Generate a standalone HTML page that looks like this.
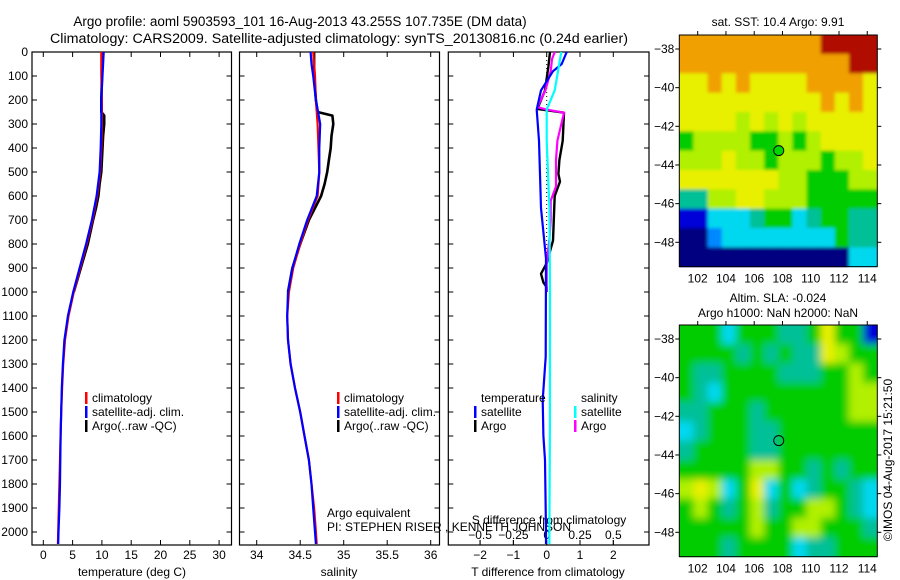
<!DOCTYPE html>
<html><head><meta charset="utf-8"><style>
body{margin:0;background:#fff}
svg{display:block;font-family:"Liberation Sans",sans-serif}
</style></head><body>
<svg id="fig" xmlns="http://www.w3.org/2000/svg" width="900" height="580" viewBox="0 0 900 580">
<defs>
<filter id="blurA" x="-5%" y="-5%" width="110%" height="110%"><feGaussianBlur stdDeviation="1.6"/></filter>
<filter id="blurB" x="-5%" y="-5%" width="110%" height="110%"><feGaussianBlur stdDeviation="4"/></filter>
<clipPath id="clipA"><rect x="679.3" y="35" width="198" height="232.3"/></clipPath>
<clipPath id="clipB"><rect x="679.3" y="325" width="198" height="232.3"/></clipPath>
</defs>
<rect width="900" height="580" fill="#fff"/>
<text x="300" y="26" font-size="13.5" text-anchor="middle">Argo profile: aoml 5903593_101 16-Aug-2013 43.255S 107.735E (DM data)</text>
<text x="339" y="43" font-size="13.5" text-anchor="middle" textLength="578" lengthAdjust="spacingAndGlyphs">Climatology: CARS2009. Satellite-adjusted climatology: synTS_20130816.nc (0.24d earlier)</text>
<text x="778" y="26" font-size="12" text-anchor="middle">sat. SST: 10.4 Argo: 9.91</text>
<text x="778" y="302" font-size="12" text-anchor="middle">Altim. SLA: -0.024</text>
<text x="778" y="317" font-size="12" text-anchor="middle">Argo h1000: NaN h2000: NaN</text>
<text x="0" y="0" font-size="12" text-anchor="middle" transform="translate(892,460) rotate(-90)">©IMOS 04-Aug-2017 15:21:50</text>
<text x="327" y="517" font-size="12">Argo equivalent</text>
<text x="327" y="531" font-size="12">PI: STEPHEN RISER , KENNETH JOHNSON</text>
<text x="549" y="524" font-size="12" text-anchor="middle">S difference from climatology</text>
<g id="g"></g>
</svg>
<script>
// ---------- data ----------
const depthTicks=[0,100,200,300,400,500,600,700,800,900,1000,1100,1200,1300,1400,1500,1600,1700,1800,1900,2000];
const tempTicks=[0,5,10,15,20,25,30];
const salTicks=[34,34.5,35,35.5,36];
const salTickLabels=["34","34.5","35","35.5","36"];
const tdTicks=[-2,-1,0,1,2];
const tdTickLabels=["\u22122","\u22121","0","1","2"];
const sdTicks=[-0.5,-0.25,0,0.25,0.5];
const sdTickLabels=["\u22120.5","\u22120.25","0","0.25","0.5"];
const climDepth=[0,50,100,200,300,400,500,600,700,800,900,1000,1100,1200,1300,1400,1500,1600,1700,1800,1900,2000,2050];
const climT=[9.9,9.9,9.9,10.0,10.0,9.9,9.7,9.2,8.4,7.4,6.3,5.2,4.3,3.7,3.4,3.2,3.05,2.95,2.85,2.75,2.65,2.55,2.5];
const satT=[10.3,10.2,10.1,9.9,9.9,9.8,9.6,9.1,8.3,7.3,6.2,5.1,4.2,3.6,3.35,3.15,3.05,2.95,2.9,2.85,2.75,2.6,2.55];
const climS=[34.65,34.66,34.67,34.68,34.70,34.71,34.72,34.70,34.59,34.50,34.42,34.37,34.35,34.36,34.39,34.44,34.50,34.55,34.60,34.63,34.66,34.68,34.69];
const satS=[34.62,34.63,34.65,34.68,34.73,34.72,34.72,34.69,34.58,34.49,34.41,34.36,34.35,34.36,34.39,34.44,34.50,34.55,34.60,34.63,34.65,34.67,34.68];
const argoDepth=[0,50,100,150,200,250,265,300,350,400,450,500,550,600,650,700,800,900,1000];
const argoT=[10.0,10.0,10.0,9.95,9.9,9.9,10.4,10.4,10.2,10.1,10.0,9.9,9.6,9.4,9.0,8.5,7.6,6.4,5.2];
const argoS=[34.66,34.66,34.66,34.67,34.68,34.70,34.87,34.88,34.86,34.85,34.83,34.81,34.78,34.74,34.67,34.60,34.50,34.41,34.36];
const tSatDiffDepth=[0,50,80,160,240,370,650,860,1270,1450,1600,1700,2000,2050];
const tSatDiff=[0.6,0.45,0.19,-0.17,-0.3,-0.23,-0.17,-0.02,-0.03,-0.12,-0.1,-0.05,-0.02,-0.02];
const tArgoDiffDepth=[0,60,160,237,253,370,450,508,540,600,786,880,924,960,980,1000];
const tArgoDiff=[0.1,0.05,-0.05,-0.28,0.52,0.48,0.38,0.35,0.4,0.24,0.19,0.0,-0.17,-0.1,0.0,0.0];
const sArgoDiffDepth=[0,30,80,160,230,240,253,370,450,508,560,620,700,780,880,980,1000];
const sArgoDiff=[0.06,0.04,0.03,-0.01,-0.07,0.0,0.13,0.08,0.07,0.07,0.07,0.03,0.03,0.02,0.0,0.0,0.0];
const sSatDiffDepth=[0,30,80,160,240,370,650,1000,1500,2000,2050];
const sSatDiff=[0.11,0.1,0.085,0.06,0.0,0.0,0.02,0.025,0.025,0.02,0.02];
const lonTicks=[102,104,106,108,110,112,114];
const latTicks=[-38,-40,-42,-44,-46,-48];
const sstGrid=["88888888889999","88888888888899","77878777788887","77777777778787","77776767677777","56666556567777","66676656665667","77777776655566","44667766655555","11333455345544","00233333333544","00000000000033"];
const slaGrid=["55535554457551","55554545447655","54455554445565","54355555555566","44555455555566","34555445555555","45555445555555","55555665545455","67635735345543","56545645566543","55555655665554","55545555344555"];
const palette=["#000080","#0000d8","#0088ff","#00d8f0","#00c098","#00cc00","#b0f000","#e8f000","#f0a000","#b01000"];
const argoLon=107.735, argoLat=-43.255;
// ---------- helpers ----------
const NS="http://www.w3.org/2000/svg";
const G=document.getElementById('g');
function mk(tag,attrs,parent){const e=document.createElementNS(NS,tag);for(const k in attrs)e.setAttribute(k,attrs[k]);(parent||G).appendChild(e);return e;}
const yD=d=>52+d*0.24;
const xT=v=>43.3+v*5.86;
const xS=v=>256.7+(v-34)*87;
const xTd=v=>546.7+v*33.3;
const xSd=v=>546.7+v*133.3;
const PY0=52,PY1=545;
const panels=[[32,231.5],[239.5,439.5],[448.3,649]];
panels.forEach((p,i)=>{
  const r=mk('rect',{x:p[0],y:PY0,width:p[1]-p[0],height:PY1-PY0,fill:'none',stroke:'#000','stroke-width':1.2});
  
  
  depthTicks.forEach(d=>{
    const t1=mk('line',{x1:p[0],x2:p[0]+5,y1:yD(d),y2:yD(d),stroke:'#000'});
    
    
    const t2=mk('line',{x1:p[1],x2:p[1]-5,y1:yD(d),y2:yD(d),stroke:'#000'});
    
    
  });
});
depthTicks.forEach(d=>{
  const t=mk('text',{x:28,y:yD(d)+4,'font-size':12,'text-anchor':'end'});
  t.textContent=d;
  
  
});
function xticks(vals,labels,fx,ly,inside){
  vals.forEach((v,i)=>{
    const x=fx(v);
    const a=mk('line',{x1:x,x2:x,y1:PY1,y2:PY1-5,stroke:'#000'});
    
    
    if(!inside){const b=mk('line',{x1:x,x2:x,y1:PY0,y2:PY0+5,stroke:'#000'});
    
    }
    const t=mk('text',{x:x,y:ly,'font-size':12,'text-anchor':'middle'});
    t.textContent=labels[i];
    
    
  });
}
xticks(tempTicks,tempTicks.map(String),xT,559,false);
xticks(salTicks,salTickLabels,xS,559,false);
xticks(tdTicks,tdTickLabels,xTd,559,false);
xticks(sdTicks,sdTickLabels,xSd,539,true);
[["temperature (deg C)",132,"temperature-axis-title"],["salinity",339,"salinity-axis-title"],["T difference from climatology",548,"t-diff-axis-title"]].forEach(a=>{
  const t=mk('text',{x:a[1],y:576,'font-size':12,'text-anchor':'middle'});
  t.textContent=a[0];
  
  
});
const zl=mk('line',{x1:xTd(0),x2:xTd(0),y1:yD(0),y2:yD(1000),stroke:'#000','stroke-dasharray':'1,3'});


function line(vals,depths,fx,color,name,w){
  const pts=vals.map((v,i)=>fx(v).toFixed(1)+','+yD(depths[i]).toFixed(1)).join(' ');
  const p=mk('polyline',{points:pts,fill:'none',stroke:color,'stroke-width':w||2.2,'stroke-linejoin':'round'});
  
  
}
line(argoT,argoDepth,xT,'#000','argo-temperature-line',2.6);
line(climT,climDepth,xT,'#f00','climatology-temperature-line');
line(satT,climDepth,xT,'#00f','satellite-temperature-line');
line(argoS,argoDepth,xS,'#000','argo-salinity-line',2.6);
line(climS,climDepth,xS,'#f00','climatology-salinity-line');
line(satS,climDepth,xS,'#00f','satellite-salinity-line');
line(tArgoDiff,tArgoDiffDepth,xTd,'#000','argo-t-diff-line',2.4);
line(sArgoDiff,sArgoDiffDepth,xSd,'#f0f','argo-s-diff-line');
line(tSatDiff,tSatDiffDepth,xTd,'#00f','satellite-t-diff-line');
line(sSatDiff,sSatDiffDepth,xSd,'#0ff','satellite-s-diff-line');
function leg(x,y,color,label,name){
  if(color){const b=mk('rect',{x:x-7,y:y-10,width:2.5,height:12,fill:color});
  
  }
  const t=mk('text',{x:x,y:y,'font-size':12});
  t.textContent=label;
  
  
}
leg(92,402,'#f00','climatology','legend-climatology');
leg(92,416,'#00f','satellite-adj. clim.','legend-satellite');
leg(92,430,'#000','Argo(..raw -QC)','legend-argo');
leg(344,402,'#f00','climatology','legend-climatology');
leg(344,416,'#00f','satellite-adj. clim.','legend-satellite');
leg(344,430,'#000','Argo(..raw -QC)','legend-argo');
leg(481,402,null,'temperature','legend-temperature-header');
leg(481,416,'#00f','satellite','legend-t-satellite');
leg(481,430,'#000','Argo','legend-t-argo');
leg(581,402,null,'salinity','legend-salinity-header');
leg(581,416,'#0ff','satellite','legend-s-satellite');
leg(581,430,'#f0f','Argo','legend-s-argo');
const MX0=679.3,MX1=877.3,LON0=100.7,LAT0=-37.26;
const lonX=l=>697.7+(l-102)*14.13;
function drawMap(grid,top,name,filled,clip,blur){
  const latY=la=>top+14+(-38-la)*19.33;
  const outer=mk('g',{'clip-path':'url(#'+clip+')'});
  
  
  const g=mk('g',{filter:'url(#'+blur+')'},outer);
  
  
  grid.forEach((row,r)=>{
    for(let c=0;c<row.length;c++){
      const x0=lonX(LON0+c),x1=lonX(LON0+c+1),y0=latY(LAT0-r),y1=latY(LAT0-r-1);
      const cell=mk('rect',{x:x0-(c==0?8:0),y:y0-(r==0?8:0),width:x1-x0+0.5+(c==0||c==row.length-1?8:0),height:y1-y0+0.5+(r==0||r==grid.length-1?8:0),fill:palette[+row[c]]},g);
      
      
    }
  });
  const yb=latY(LAT0-12);
  const fr=mk('rect',{x:MX0,y:top,width:MX1-MX0,height:yb-top,fill:'none',stroke:'#000'});
  
  
  latTicks.forEach(la=>{
    const y=latY(la);
    const a=mk('line',{x1:MX0-4,x2:MX0,y1:y,y2:y,stroke:'#000'});
    
    
    const b=mk('line',{x1:MX1,x2:MX1+4,y1:y,y2:y,stroke:'#000'});
    
    
    const t=mk('text',{x:MX0-5,y:y+4,'font-size':12,'text-anchor':'end'});
    t.textContent=String(la).replace('-','\u2212');
    
    
  });
  lonTicks.forEach(l=>{
    const x=lonX(l);
    const a=mk('line',{x1:x,x2:x,y1:top-4,y2:top,stroke:'#000'});
    
    
    const t=mk('text',{x:x,y:yb+16,'font-size':12,'text-anchor':'middle'});
    t.textContent=l;
    
    
  });
  const m=mk('circle',{cx:lonX(argoLon),cy:latY(argoLat),r:5,fill:filled?'#00d800':'none',stroke:'#000','stroke-width':1});
  
  
}
drawMap(sstGrid,35,'sst-map',true,'clipA','blurA');
drawMap(slaGrid,325,'sla-map',false,'clipB','blurB');
</script>
</body></html>
